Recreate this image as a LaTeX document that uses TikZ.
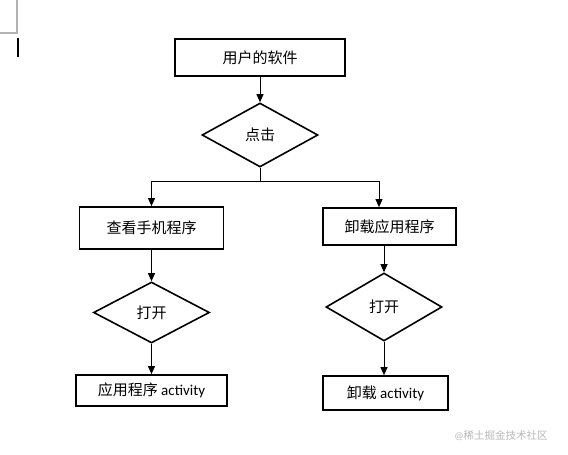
\documentclass[tikz,border=0pt]{standalone}
\usepackage{fontspec}
\setmainfont{Carlito}
\newfontfamily\cjk{Noto Sans CJK SC}
\usetikzlibrary{shapes.geometric,arrows.meta}
\begin{document}
\begin{tikzpicture}[x=1pt,y=-1pt,
  every node/.style={font=\fontsize{15}{18}\selectfont},
  box/.style={draw=black,line width=1.7pt,rectangle,inner sep=0pt,align=center},
  dec/.style={draw=black,line width=1.6pt,diamond,inner sep=0pt,aspect=1.8},
  conn/.style={draw=black,line width=1pt},
  arr/.style={conn,-{Triangle[length=8pt,width=7pt]}}]
\useasboundingbox[fill=white] (0,0) rectangle (568,455);
% screen artifacts
\draw[gray!60,line width=1.2pt] (0,33) -- (17,33) -- (17,0);
\draw[black,line width=1.2pt] (18,38) -- (18,57);
% nodes
\node[box,minimum width=170pt,minimum height=37pt] (top) at (260,57.5) {\cjk 用户的软件};
\node[dec,minimum width=116pt,minimum height=64pt] (d1) at (260,135) {\cjk 点击};
\node[box,minimum width=144pt,minimum height=42pt] (lbox) at (151.5,228) {\cjk 查看手机程序};
\node[box,minimum width=133pt,minimum height=37pt] (rbox) at (389.5,226.5) {\cjk 卸载应用程序};
\node[dec,minimum width=116pt,minimum height=61pt] (ld) at (151.5,312.5) {\cjk 打开};
\node[dec,minimum width=116pt,minimum height=68pt] (rd) at (384,307) {\cjk 打开};
\node[box,minimum width=151pt,minimum height=31pt] (lb) at (151.5,390.5) {{\cjk 应用程序} activity};
\node[box,minimum width=125pt,minimum height=34pt] (rb) at (385.5,393) {{\cjk 卸载} activity};
\node[text=gray!55,font=\fontsize{10.5}{12}\selectfont] (wm) at (501,436) {@{\cjk 稀土掘金技术社区}};
% connectors
\coordinate (split) at (260,181);
\draw[arr] (top.south) -- (d1.north);
\draw[conn] (d1.south) -- (split);
\draw[arr] (split) -| (lbox.north);
\draw[arr] (split) -| ([xshift=-10.5pt]rbox.north);
\draw[arr] (lbox.south) -- (ld.north);
\draw[arr] ([xshift=-5.5pt]rbox.south) -- (rd.north);
\draw[arr] (ld.south) -- (lb.north);
\draw[arr] (rd.south) -- (rd.south |- rb.north);
\end{tikzpicture}
\end{document}
